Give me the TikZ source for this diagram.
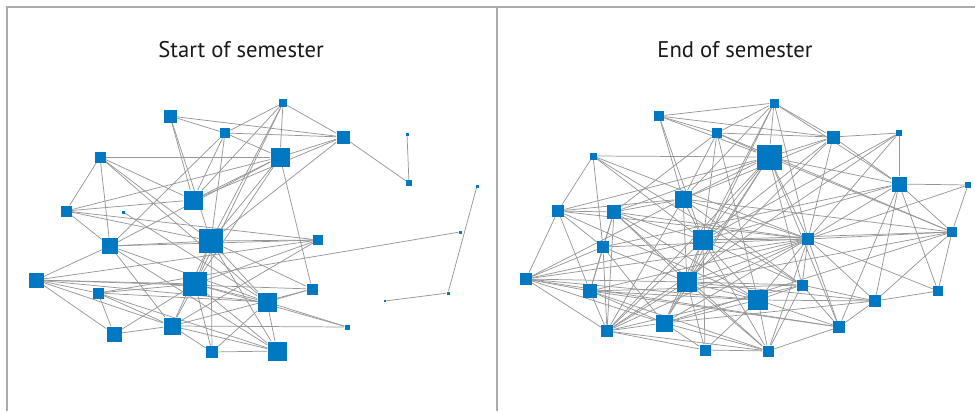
\documentclass[tikz,border=0pt]{standalone}
\usepackage{fontspec}
\setmainfont{PT Sans}
\usepackage{tikz}
\usetikzlibrary{backgrounds}

\definecolor{netblue}{RGB}{0,120,194}
\definecolor{edgegray}{RGB}{150,150,150}
\definecolor{framegray}{RGB}{170,170,170}

\begin{document}
\begin{tikzpicture}[
    x=0.75pt, y=-0.75pt,  % pixel grid, y downwards
    member/.style={fill=netblue, inner sep=0pt, minimum size=#1*0.75pt},
    link/.style={draw=edgegray, line width=0.55pt},
    frame/.style={draw=framegray, line width=1.1pt},
    title/.style={font=\fontsize{17}{20}\selectfont, text=black!90},
]
\useasboundingbox (0,0) rectangle (975,411);

% --- Marco y titulos ---
\draw[frame] (7,411) -- (7,7) -- (975,7);
\draw[frame] (497,7) -- (497,411);
\node[title] (tstart) at (241,50) {Start of semester};
\node[title] (tend) at (735,50) {End of semester};

% --- Red al inicio del semestre ---
\node[member=13] (s1) at (170,116) {};
\node[member=8]  (s2) at (283,103) {};
\node[member=10] (s3) at (225,133) {};
\node[member=13] (s4) at (343,137) {};
\node[member=11] (s5) at (100,157) {};
\node[member=19] (s6) at (280,157) {};
\node[member=3]  (s7) at (407,134) {};
\node[member=6]  (s8) at (409,183) {};
\node[member=11] (s9) at (66,211) {};
\node[member=3]  (s10) at (123,212) {};
\node[member=19] (s11) at (193,200) {};
\node[member=3]  (s12) at (477,186) {};
\node[member=16] (s13) at (110,246) {};
\node[member=24] (s14) at (211,241) {};
\node[member=10] (s15) at (318,240) {};
\node[member=3]  (s16) at (460,232) {};
\node[member=15] (s17) at (36,280) {};
\node[member=11] (s18) at (98,293) {};
\node[member=24] (s19) at (195,284) {};
\node[member=11] (s20) at (312,289) {};
\node[member=19] (s21) at (267,302) {};
\node[member=3]  (s22) at (448,293) {};
\node[member=2.5] (s23) at (385,301) {};
\node[member=5]  (s24) at (347,327) {};
\node[member=15] (s25) at (114,334) {};
\node[member=17] (s26) at (172,326) {};
\node[member=12] (s27) at (212,352) {};
\node[member=19] (s28) at (277,351) {};

% --- Red al final del semestre ---
\node[member=10] (e1) at (659,116) {};
\node[member=9]  (e2) at (774,103) {};
\node[member=10] (e3) at (717,133) {};
\node[member=13] (e4) at (833,137) {};
\node[member=7]  (e5) at (593,156) {};
\node[member=25] (e6) at (769,157) {};
\node[member=6]  (e7) at (899,133) {};
\node[member=15] (e8) at (899,184) {};
\node[member=12] (e9) at (558,211) {};
\node[member=14] (e10) at (614,212) {};
\node[member=17] (e11) at (683,199) {};
\node[member=6]  (e12) at (968,185) {};
\node[member=12] (e13) at (603,247) {};
\node[member=20] (e14) at (703,240) {};
\node[member=12] (e15) at (808,239) {};
\node[member=10] (e16) at (952,232) {};
\node[member=12] (e17) at (526,279) {};
\node[member=14] (e18) at (590,291) {};
\node[member=20] (e19) at (687,282) {};
\node[member=11] (e20) at (802,285) {};
\node[member=20] (e21) at (758,300) {};
\node[member=10] (e22) at (938,291) {};
\node[member=12] (e23) at (875,301) {};
\node[member=12] (e24) at (839,327) {};
\node[member=12] (e25) at (607,331) {};
\node[member=17] (e26) at (664,323) {};
\node[member=11] (e27) at (705,350) {};
\node[member=11] (e28) at (768,351) {};

% --- Conexiones (detras de los nodos) ---
\begin{pgfonlayer}{background}
\draw[link] (s1) edge (s3) edge (s4) edge (s11) edge (s14);
\draw[link] (s2) edge (s3) edge (s4) edge (s6) edge (s11) edge (s14) edge (s19);
\draw[link] (s3) edge (s4) edge (s6) edge (s11) edge (s14) edge (s13);
\draw[link] (s4) edge (s6) edge (s11) edge (s14) edge (s8);
\draw[link] (s5) edge (s6) edge (s9) edge (s13) edge (s11) edge (s14) edge (s21);
\draw[link] (s6) edge (s11) edge (s9) edge (s14) edge (s19) edge (s20) edge (s13);
\draw[link] (s7) edge (s8);
\draw[link] (s9) edge (s11) edge (s13) edge (s14) edge (s15);
\draw[link] (s10) edge (s21);
\draw[link] (s12) edge (s22);
\draw[link] (s22) edge (s23);
\draw[link] (s13) edge (s17) edge (s21) edge (s28) edge (s15) edge (s26) edge (s14);
\draw[link] (s14) edge (s19) edge (s21) edge (s26) edge (s27) edge (s28) edge (s20) edge (s15);
\draw[link] (s15) edge (s17) edge (s26) edge (s19);
\draw[link] (s16) edge (s18);
\draw[link] (s17) edge (s18) edge (s19) edge (s21) edge (s25) edge (s26) edge (s20);
\draw[link] (s18) edge (s25) edge (s21) edge (s26) edge (s28) edge (s19);
\draw[link] (s19) edge (s21) edge (s25) edge (s26) edge (s27) edge (s28) edge (s24);
\draw[link] (s20) edge (s21) edge (s26);
\draw[link] (s21) edge (s24) edge (s27) edge (s28);
\draw[link] (s25) edge (s26);
\draw[link] (s26) edge (s27) edge (s28) edge (s24);
\draw[link] (s27) edge (s28);

\draw[link] (e1) edge (e2) edge (e3) edge (e4) edge (e6) edge (e11) edge (e14);
\draw[link] (e2) edge (e3) edge (e4) edge (e6) edge (e8) edge (e11) edge (e14) edge (e15) edge (e19);
\draw[link] (e3) edge (e4) edge (e6) edge (e11) edge (e14) edge (e10) edge (e21) edge (e16);
\draw[link] (e4) edge (e6) edge (e8) edge (e11) edge (e14) edge (e15) edge (e19) edge (e7);
\draw[link] (e5) edge (e6) edge (e9) edge (e13) edge (e14) edge (e15) edge (e20);
\draw[link] (e6) edge (e8) edge (e10) edge (e11) edge (e14) edge (e15) edge (e19) edge (e20)
    edge (e25) edge (e26) edge (e24) edge (e16) edge (e9);
\draw[link] (e7) edge (e8) edge (e14) edge (e15) edge (e25);
\draw[link] (e8) edge (e12) edge (e15) edge (e16) edge (e22) edge (e23) edge (e24) edge (e14) edge (e13);
\draw[link] (e9) edge (e10) edge (e13) edge (e17) edge (e18) edge (e15) edge (e21) edge (e11);
\draw[link] (e10) edge (e11) edge (e13) edge (e14) edge (e15) edge (e19) edge (e21) edge (e25)
    edge (e28) edge (e18);
\draw[link] (e11) edge (e14) edge (e15) edge (e19) edge (e25) edge (e16) edge (e17) edge (e20);
\draw[link] (e12) edge (e16) edge (e15);
\draw[link] (e13) edge (e15) edge (e18) edge (e25) edge (e17) edge (e26) edge (e19);
\draw[link] (e14) edge (e15) edge (e19) edge (e21) edge (e26) edge (e27) edge (e28) edge (e25)
    edge (e16) edge (e20) edge (e17);
\draw[link] (e15) edge (e16) edge (e17) edge (e18) edge (e19) edge (e20) edge (e21) edge (e23)
    edge (e24) edge (e25) edge (e26) edge (e28) edge (e22);
\draw[link] (e16) edge (e22) edge (e19) edge (e23) edge (e26);
\draw[link] (e17) edge (e18) edge (e19) edge (e21) edge (e25) edge (e26) edge (e24);
\draw[link] (e18) edge (e21) edge (e25) edge (e26) edge (e28) edge (e24) edge (e20);
\draw[link] (e19) edge (e21) edge (e25) edge (e26) edge (e27) edge (e28) edge (e23) edge (e20);
\draw[link] (e20) edge (e21) edge (e23) edge (e24) edge (e25) edge (e28);
\draw[link] (e21) edge (e23) edge (e24) edge (e26) edge (e27) edge (e28);
\draw[link] (e22) edge (e23);
\draw[link] (e23) edge (e24) edge (e26);
\draw[link] (e24) edge (e28);
\draw[link] (e25) edge (e26) edge (e27) edge (e28);
\draw[link] (e26) edge (e27) edge (e28);
\draw[link] (e27) edge (e28);
\end{pgfonlayer}

\end{tikzpicture}
\end{document}
